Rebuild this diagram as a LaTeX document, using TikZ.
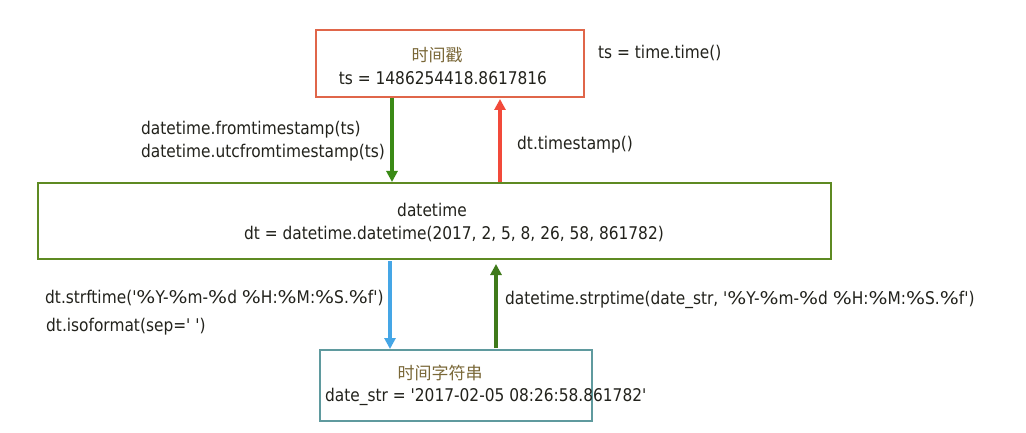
\documentclass[tikz,border=0pt]{standalone}
\usepackage{fontspec}
\usepackage{graphicx}
\newfontfamily\mainf{DejaVu Sans}[FakeStretch=0.88]
\newfontfamily\cjk{Noto Sans CJK SC}
\usetikzlibrary{arrows.meta}
\newcommand\pcx{\scalebox{1.3}[1]{\%}}
\definecolor{txt}{HTML}{22221C}
\definecolor{ttl}{HTML}{7A6838}
\definecolor{redb}{HTML}{E0664A}
\definecolor{greenb}{HTML}{5E8A22}
\definecolor{tealb}{HTML}{5F9A9E}
\definecolor{garrow}{HTML}{3A8A16}
\definecolor{rarrow}{HTML}{F24A3A}
\definecolor{barrow}{HTML}{45A6E6}
\definecolor{garrow2}{HTML}{3F7A1A}
\tikzset{
  lbl/.style={anchor=west, inner sep=0pt, text=txt, font=\mainf\fontsize{17.5}{20}\selectfont},
  ctr/.style={anchor=center, inner sep=0pt, text=txt, font=\mainf\fontsize{17.5}{20}\selectfont},
  ttlt/.style={anchor=center, inner sep=0pt, text=ttl, font=\cjk\fontsize{17}{20}\selectfont},
  boxx/.style={draw, line width=1.8pt, inner sep=0pt},
  arr/.style={line width=3.4pt, -{Triangle[length=11pt,width=11pt]}}
}
\begin{document}
\begin{tikzpicture}[x=1pt,y=-1pt]
\useasboundingbox[fill=white] (0,0) rectangle (1026,433);
% boxes
\node[boxx, draw=redb, minimum width=268pt, minimum height=67pt] (ts) at (450,63.5) {};
\node[boxx, draw=greenb, minimum width=793pt, minimum height=76pt] (dt) at (434.5,221) {};
\node[boxx, draw=tealb, minimum width=272pt, minimum height=71pt] (ds) at (456,385.5) {};
% box texts
\node[ttlt] (tsT) at (437,55) {时间戳};
\node[ctr] (tsV) at (443,78) {ts = 1486254418.8617816};
\node[ctr] (dtT) at (432,210) {datetime};
\node[ctr] (dtV) at (454,234) {dt = datetime.datetime(2017, 2, 5, 8, 26, 58, 861782)};
\node[ttlt] (dsT) at (440,373) {时间字符串};
\node[lbl] (dsV) at (325,397) {date\_str = '2017-02-05 08:26:58.861782'};
% side labels
\node[lbl] (tt) at (598,53) {ts = time.time()};
\node[lbl] (ft1) at (141,130) {datetime.fromtimestamp(ts)};
\node[lbl] (ft2) at (141,153) {datetime.utcfromtimestamp(ts)};
\node[lbl] (tsm) at (517,145) {dt.timestamp()};
\node[lbl] (sf) at (45,298) {dt.strftime('\pcx Y-\pcx m-\pcx d \pcx H:\pcx M:\pcx S.\pcx f')};
\node[lbl] (iso) at (46,327) {dt.isoformat(sep=' ')};
\node[lbl] (sp) at (505,300) {datetime.strptime(date\_str, '\pcx Y-\pcx m-\pcx d \pcx H:\pcx M:\pcx S.\pcx f')};
% arrows
\coordinate (a1s) at (392,98);
\coordinate (a1e) at (392,182);
\coordinate (a2s) at (500,182);
\coordinate (a2e) at (500,99);
\coordinate (a3s) at (390,261);
\coordinate (a3e) at (390,349);
\coordinate (a4s) at (496,348);
\coordinate (a4e) at (496,264);
\draw[arr, garrow] (a1s) -- (a1e);
\draw[arr, rarrow] (a2s) -- (a2e);
\draw[arr, barrow] (a3s) -- (a3e);
\draw[arr, garrow2] (a4s) -- (a4e);
\end{tikzpicture}
\end{document}
